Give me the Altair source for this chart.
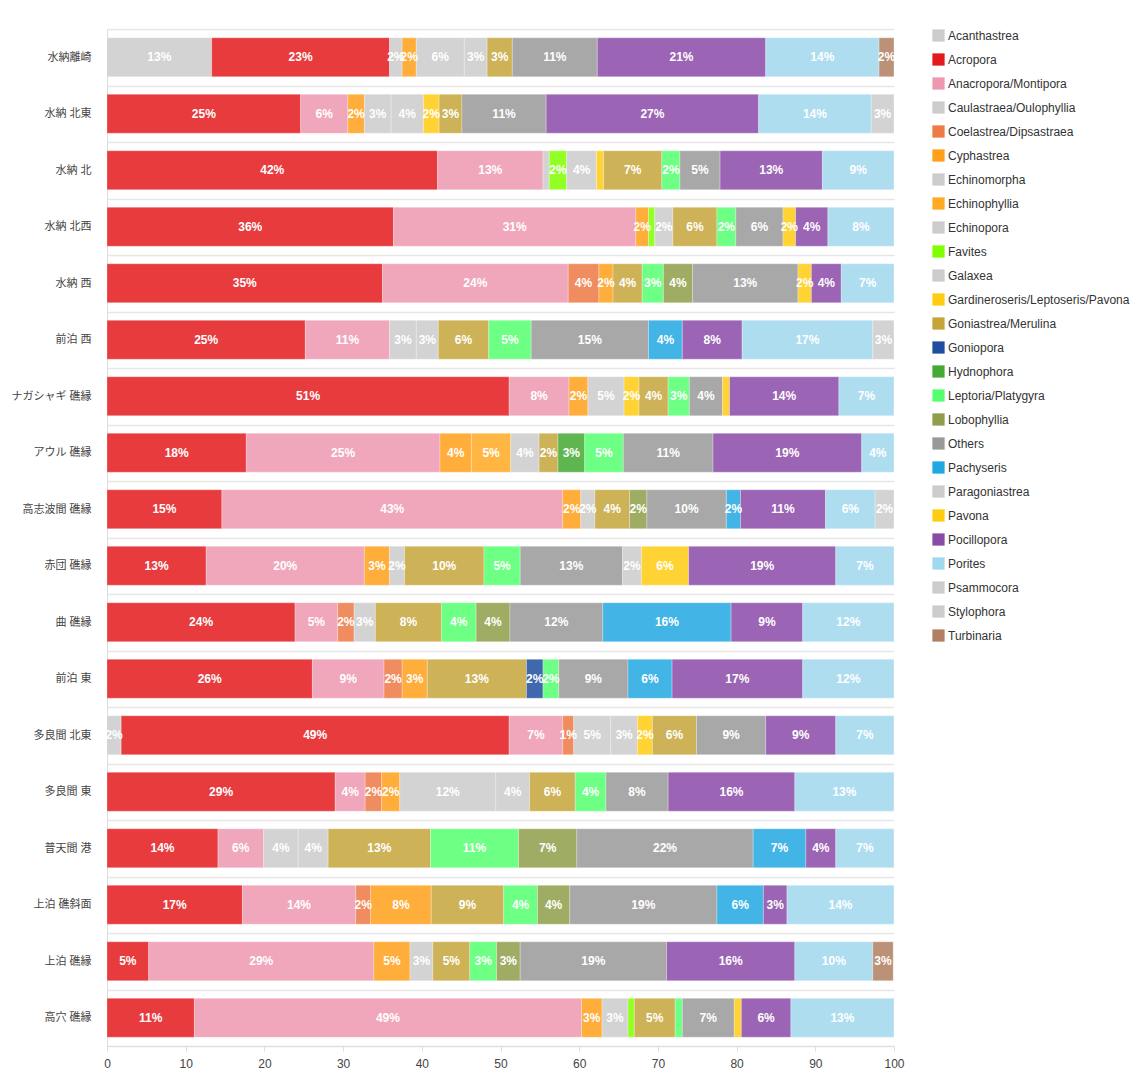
import altair as alt
import pandas as pd

# Survey sites, top to bottom
sites = [
    "水納離崎", "水納 北東", "水納 北", "水納 北西", "水納 西", "前泊 西",
    "ナガシャギ 礁縁", "アウル 礁縁", "高志波間 礁縁", "赤団 礁縁", "曲 礁縁",
    "前泊 東", "多良間 北東", "多良間 東", "普天間 港", "上泊 礁斜面",
    "上泊 礁縁", "高穴 礁縁",
]

# Coral genera (stack order) and their colours
genera = [
    "Acanthastrea", "Acropora", "Anacropora/Montipora", "Caulastraea/Oulophyllia",
    "Coelastrea/Dipsastraea", "Cyphastrea", "Echinomorpha", "Echinophyllia",
    "Echinopora", "Favites", "Galaxea", "Gardineroseris/Leptoseris/Pavona",
    "Goniastrea/Merulina", "Goniopora", "Hydnophora", "Leptoria/Platygyra",
    "Lobophyllia", "Others", "Pachyseris", "Paragoniastrea", "Pavona",
    "Pocillopora", "Porites", "Psammocora", "Stylophora", "Turbinaria",
]
genus_colors = [
    "#cccccc", "#e31a1c", "#ee98b0", "#cccccc",
    "#ee7a45", "#ff9f1a", "#cccccc", "#ffaa22",
    "#cccccc", "#80ff00", "#cccccc", "#ffcc11",
    "#c5a53a", "#1f4e9e", "#44aa33", "#55ff70",
    "#8f9e4a", "#999999", "#22a7e2", "#cccccc", "#ffcc11",
    "#8a4aa8", "#a0d8ee", "#cccccc", "#cccccc", "#b08060",
]

# Percent cover per genus, one value per site (same order as `sites`)
acanthastrea   = [13.3, 0, 0, 0, 0, 0, 0, 0, 0, 0, 0, 0, 1.8, 0, 0, 0, 0, 0]
acropora       = [22.6, 24.6, 42.0, 36.4, 35.0, 25.2, 51.1, 17.7, 14.6, 12.6, 23.9, 26.1, 49.3, 29.0, 14.1, 17.2, 5.3, 11.1]
anacropora     = [0, 6.0, 13.4, 30.8, 23.6, 10.7, 7.6, 24.6, 43.3, 20.1, 5.4, 9.1, 6.8, 3.8, 5.8, 14.4, 28.6, 49.2]
caulastraea    = [1.6, 0, 0, 0, 0, 3.4, 0, 0, 0, 0, 0, 0, 0, 0, 4.4, 0, 0, 0]
coelastrea     = [0, 0, 0, 0, 3.9, 0, 0, 0, 0, 0, 2.1, 2.3, 1.4, 2.1, 0, 1.9, 0, 0]
cyphastrea     = [1.8, 2.1, 0, 1.6, 1.8, 0, 2.4, 4.0, 2.3, 3.2, 0, 3.2, 0, 2.3, 0, 7.7, 4.6, 2.6]
echinomorpha   = [0, 3.4, 0, 0, 0, 0, 0, 0, 0, 0, 2.7, 0, 0, 0, 0, 0, 0, 0]
echinophyllia  = [0, 0, 0, 0, 0, 0, 0, 5.0, 0, 0, 0, 0, 0, 0, 0, 0, 0, 0]
echinopora     = [6.1, 0, 0.8, 0, 0, 0, 0, 3.6, 0, 0, 0, 0, 4.7, 12.2, 0, 0, 0, 3.3]
favites        = [0, 0, 2.2, 0.8, 0, 0, 0, 0, 0, 0, 0, 0, 0, 0, 0, 0, 0, 0.8]
galaxea        = [2.9, 4.1, 3.8, 2.3, 0, 2.8, 4.6, 0, 1.8, 1.9, 0, 0, 3.4, 4.3, 3.8, 0, 2.9, 0]
gardineroseris = [0, 2.0, 0.9, 0, 0, 0, 1.9, 0, 0, 0, 0, 0, 1.9, 0, 0, 0, 0, 0]
goniastrea     = [3.2, 2.9, 7.4, 5.6, 3.7, 6.4, 3.7, 2.4, 4.4, 10.1, 8.4, 12.6, 5.6, 5.8, 13.0, 9.2, 4.7, 5.2]
goniopora      = [0, 0, 0, 0, 0, 0, 0, 0, 0, 0, 0, 2.1, 0, 0, 0, 0, 0, 0]
hydnophora     = [0, 0, 0, 0, 0, 0, 0, 3.4, 0, 0, 0, 0, 0, 0, 0, 0, 0, 0]
leptoria       = [0, 0, 2.3, 2.4, 2.7, 5.4, 2.7, 4.9, 0, 4.6, 4.4, 2.0, 0, 3.9, 11.2, 4.3, 3.4, 0.9]
lobophyllia    = [0, 0, 0, 0, 3.7, 0, 0, 0, 2.2, 0, 4.3, 0, 0, 0, 7.4, 4.1, 3.0, 0]
others         = [10.8, 10.7, 5.1, 6.0, 13.4, 14.9, 4.2, 11.4, 10.1, 13.0, 11.8, 8.8, 8.8, 7.9, 22.4, 18.7, 18.6, 6.6]
pachyseris     = [0, 0, 0, 0, 0, 4.3, 0, 0, 1.8, 0, 16.3, 5.6, 0, 0, 6.7, 5.9, 0, 0]
paragoniastrea = [0, 0, 0, 0, 0, 0, 0, 0, 0, 2.4, 0, 0, 0, 0, 0, 0, 0, 0]
pavona         = [0, 0, 0, 1.6, 1.7, 0, 0.9, 0, 0, 6.0, 0, 0, 0, 0, 0, 0, 0, 0.9]
pocillopora    = [21.4, 27.0, 13.0, 4.1, 3.8, 7.6, 13.9, 18.9, 10.8, 18.7, 9.1, 16.6, 8.9, 16.1, 3.8, 3.0, 16.3, 6.3]
porites        = [14.4, 14.3, 9.1, 8.4, 6.7, 16.6, 7.0, 4.1, 6.3, 7.4, 11.6, 11.6, 7.4, 12.6, 7.4, 13.6, 9.9, 13.1]
psammocora     = [0, 2.9, 0, 0, 0, 0, 0, 0, 2.4, 0, 0, 0, 0, 0, 0, 0, 0, 0]
stylophora     = [0, 0, 0, 0, 0, 2.7, 0, 0, 0, 0, 0, 0, 0, 0, 0, 0, 0, 0]
turbinaria     = [1.9, 0, 0, 0, 0, 0, 0, 0, 0, 0, 0, 0, 0, 0, 0, 0, 2.6, 0]

cover = [
    acanthastrea, acropora, anacropora, caulastraea, coelastrea, cyphastrea,
    echinomorpha, echinophyllia, echinopora, favites, galaxea, gardineroseris,
    goniastrea, goniopora, hydnophora, leptoria, lobophyllia, others,
    pachyseris, paragoniastrea, pavona, pocillopora, porites, psammocora,
    stylophora, turbinaria,
]

rows = []
for gi, (genus, values) in enumerate(zip(genera, cover)):
    for site, v in zip(sites, values):
        if v > 0:
            rows.append({"site": site, "genus": genus, "order": gi, "pct": v})
df = pd.DataFrame(rows)

label_font = "Liberation Sans, Noto Sans CJK JP, sans-serif"

base = alt.Chart(df).transform_stack(
    stack="pct",
    groupby=["site"],
    as_=["x0", "x1"],
    sort=[alt.SortField("order", order="ascending")],
)

y_enc = alt.Y(
    "site:N",
    sort=sites,
    title=None,
    scale=alt.Scale(paddingInner=0, paddingOuter=0),
    axis=alt.Axis(
        tickBand="extent",
        grid=True,
        gridColor="#e6e6e6",
        gridWidth=1.5,
        ticks=False,
        domain=True,
        domainColor="#dddddd",
        labelFont=label_font,
        labelFontSize=11,
        labelColor="#444444",
        labelPadding=16,
        minExtent=102,
        maxExtent=102,
    ),
)

bars = base.mark_bar(
    opacity=0.85,
    stroke="white",
    strokeWidth=0.6,
    strokeOpacity=0.5,
    height=alt.RelativeBandSize(0.69),
).encode(
    x=alt.X(
        "x0:Q",
        title=None,
        scale=alt.Scale(domain=[0, 100], nice=False, zero=True),
        axis=alt.Axis(
            values=list(range(0, 101, 10)),
            grid=False,
            labelFlush=False,
            domainColor="#dddddd",
            tickColor="#dddddd",
            tickSize=5,
            labelFont=label_font,
            labelFontSize=12,
            labelColor="#444444",
            labelPadding=7,
        ),
    ),
    x2="x1:Q",
    y=y_enc,
    color=alt.Color(
        "genus:N",
        scale=alt.Scale(domain=genera, range=genus_colors),
        legend=alt.Legend(
            title=None,
            orient="right",
            offset=38,
            padding=0,
            symbolType="square",
            symbolSize=150,
            symbolOpacity=1,
            symbolStrokeWidth=0,
            labelFont=label_font,
            labelFontSize=12,
            labelColor="#333333",
            labelOffset=3,
            labelLimit=300,
            rowPadding=11,
        ),
    ),
)

labels = (
    base.transform_filter("datum.pct >= 1")
    .transform_calculate(
        mid="(datum.x0 + datum.x1) / 2",
        label="format(datum.pct, '.0f') + '%'",
    )
    .mark_text(
        color="white",
        font=label_font,
        fontSize=12,
        fontWeight="bold",
        align="center",
        baseline="middle",
    )
    .encode(
        x=alt.X("mid:Q"),
        y=alt.Y("site:N", sort=sites),
        text="label:N",
    )
)

chart = (
    alt.layer(bars, labels)
    .properties(
        width=787,
        height=1017,
        padding={"top": 23, "left": 5, "right": 5, "bottom": 5},
    )
    .configure_view(stroke=None)
)

chart.save("out.html", embed_options={"renderer": "svg", "actions": False})
